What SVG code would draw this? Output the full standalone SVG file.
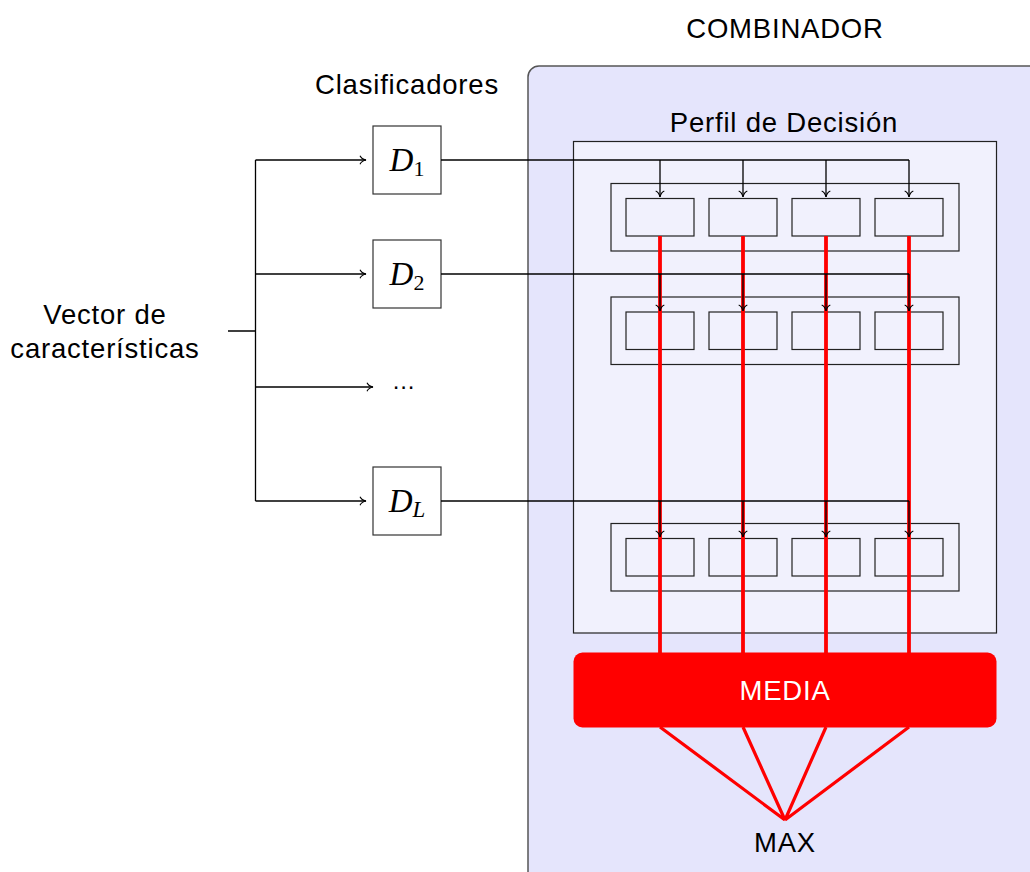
<svg xmlns="http://www.w3.org/2000/svg" width="1030" height="872" viewBox="0 0 1030 872">
  <style>
    .lbl { font-family: "Liberation Sans", Arial, sans-serif; font-size: 27.5px; fill: #000; text-anchor: middle; letter-spacing: 0.8px; }
    .math { font-family: "Liberation Serif", "Times New Roman", serif; font-style: italic; font-size: 33px; fill: #000; text-anchor: middle; }
    .sub { font-style: normal; font-size: 22px; }
    .subi { font-style: italic; font-size: 23px; }
    .box { fill: #fff; stroke: #333; stroke-width: 1.2; }
    .cell { fill: none; stroke: #222; stroke-width: 1.2; }
    .wire { fill: none; stroke: #000; stroke-width: 1.3; }
    .red { fill: none; stroke: #ff0000; stroke-width: 3.8; }
    .redt { fill: none; stroke: #ff0000; stroke-width: 3.2; }
  </style>
  <defs>
    <marker id="to" viewBox="-8 -6 10 12" markerWidth="10" markerHeight="12" refX="0" refY="0" orient="auto" markerUnits="userSpaceOnUse">
      <path d="M-6,-4.3 C-5,-2 -2.2,-0.5 0,0 C-2.2,0.5 -5,2 -6,4.3" fill="none" stroke="#000" stroke-width="1.1"/>
    </marker>
  </defs>

  <rect width="1030" height="872" fill="#fff"/>

  <!-- combiner container -->
  <g id="combinador">
    <rect x="528" y="66" width="540" height="840" rx="11" fill="#e5e5fc" stroke="#555" stroke-width="1.5"/>
    <text class="lbl" x="785" y="38">COMBINADOR</text>
  </g>

  <!-- decision profile -->
  <g id="perfil">
    <rect x="573.5" y="141.5" width="423" height="491.5" fill="#f1f1fd" stroke="#222" stroke-width="1.2"/>
    <text class="lbl" x="784" y="132">Perfil de Decisión</text>
  </g>

  <g id="fila1">
    <rect class="cell" x="611" y="183.5" width="348" height="67.5"/>
    <rect class="cell" x="626" y="198.5" width="68" height="37.5"/>
    <rect class="cell" x="709" y="198.5" width="68" height="37.5"/>
    <rect class="cell" x="792" y="198.5" width="68" height="37.5"/>
    <rect class="cell" x="875" y="198.5" width="68" height="37.5"/>
  </g>
  <g id="fila2">
    <rect class="cell" x="611" y="297" width="348" height="67.5"/>
    <rect class="cell" x="626" y="312" width="68" height="37.5"/>
    <rect class="cell" x="709" y="312" width="68" height="37.5"/>
    <rect class="cell" x="792" y="312" width="68" height="37.5"/>
    <rect class="cell" x="875" y="312" width="68" height="37.5"/>
  </g>
  <g id="filaL">
    <rect class="cell" x="611" y="523.5" width="348" height="67.5"/>
    <rect class="cell" x="626" y="538.5" width="68" height="37.5"/>
    <rect class="cell" x="709" y="538.5" width="68" height="37.5"/>
    <rect class="cell" x="792" y="538.5" width="68" height="37.5"/>
    <rect class="cell" x="875" y="538.5" width="68" height="37.5"/>
  </g>

  <!-- classifiers -->
  <g id="clasificadores">
    <text class="lbl" x="407" y="94">Clasificadores</text>
  </g>
  <g id="D1">
    <rect class="box" x="373" y="126" width="68" height="68"/>
    <text class="math" x="407" y="171">D<tspan class="sub" dy="5">1</tspan></text>
  </g>
  <g id="D2">
    <rect class="box" x="373" y="240" width="68" height="68"/>
    <text class="math" x="407" y="285">D<tspan class="sub" dy="5">2</tspan></text>
  </g>
  <g id="dots">
    <text class="lbl" x="404" y="389" style="font-size:24px">...</text>
  </g>
  <g id="DL">
    <rect class="box" x="373" y="467" width="68" height="68"/>
    <text class="math" x="407" y="512">D<tspan class="subi" dy="5">L</tspan></text>
  </g>

  <g id="vector">
    <text class="lbl" x="105" y="324">Vector de</text>
    <text class="lbl" x="105" y="358">características</text>
  </g>

  <!-- averaging and max stage -->
  <g id="red-links">
    <path class="red" d="M660,236 V653 M743,236 V653 M826,236 V653 M909,236 V653"/>
    <path class="redt" d="M660,727 L785,820 M743,727 L785,820 M826,727 L785,820 M909,727 L785,820"/>
  </g>

  <g id="connectors">
    <path class="wire" d="M228,331 H255.5 M255.5,160 V501"/>
    <path class="wire" d="M255.5,160 H366" marker-end="url(#to)"/>
    <path class="wire" d="M255.5,274 H366" marker-end="url(#to)"/>
    <path class="wire" d="M255.5,387 H373" marker-end="url(#to)"/>
    <path class="wire" d="M255.5,501 H366" marker-end="url(#to)"/>

    <path class="wire" d="M441,160 H909"/>
    <path class="wire" d="M660,160 V197" marker-end="url(#to)"/>
    <path class="wire" d="M743,160 V197" marker-end="url(#to)"/>
    <path class="wire" d="M826,160 V197" marker-end="url(#to)"/>
    <path class="wire" d="M909,160 V197" marker-end="url(#to)"/>

    <path class="wire" d="M441,274 H909"/>
    <path class="wire" d="M660,274 V311" marker-end="url(#to)"/>
    <path class="wire" d="M743,274 V311" marker-end="url(#to)"/>
    <path class="wire" d="M826,274 V311" marker-end="url(#to)"/>
    <path class="wire" d="M909,274 V311" marker-end="url(#to)"/>

    <path class="wire" d="M441,501 H909"/>
    <path class="wire" d="M660,501 V537" marker-end="url(#to)"/>
    <path class="wire" d="M743,501 V537" marker-end="url(#to)"/>
    <path class="wire" d="M826,501 V537" marker-end="url(#to)"/>
    <path class="wire" d="M909,501 V537" marker-end="url(#to)"/>
  </g>

  <g id="media">
    <rect x="573.5" y="652.5" width="423" height="75" rx="9" fill="#ff0000"/>
    <text class="lbl" x="785" y="700" style="fill:#fff">MEDIA</text>
  </g>

  <g id="max">
    <text class="lbl" x="785" y="852">MAX</text>
  </g>
</svg>
